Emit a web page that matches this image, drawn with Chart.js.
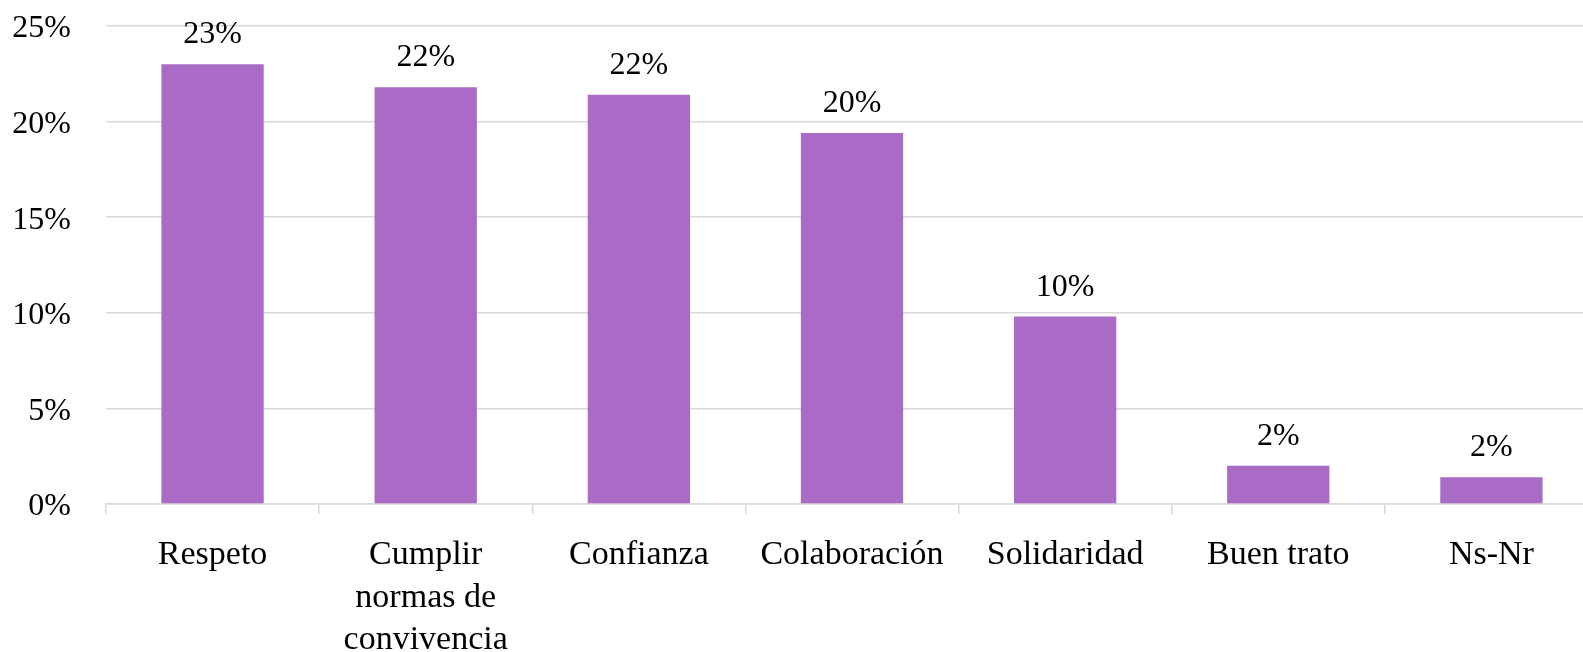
<!DOCTYPE html>
<html>
<head>
<meta charset="utf-8">
<script src="https://cdn.jsdelivr.net/npm/chart.js@4"></script>
<style>
  html, body { margin: 0; padding: 0; background: #fff; overflow: hidden; }
  #wrap { position: relative; width: 1598px; height: 652px; }
</style>
</head>
<body>
<div id="wrap"><canvas id="myChart"></canvas></div>
<script>
// chart data
const categories = ['Respeto', ['Cumplir', 'normas de', 'convivencia'], 'Confianza', 'Colaboración', 'Solidaridad', 'Buen trato', 'Ns-Nr'];
const values = [23.0, 21.8, 21.4, 19.4, 9.8, 2.0, 1.4];
const valueLabels = ['23%', '22%', '22%', '20%', '10%', '2%', '2%'];
const yTicks = [0, 5, 10, 15, 20, 25];

const FONT = "'Liberation Serif', 'Times New Roman', serif";
const GRID = '#d9d9d9';

// labels above the bars
const barLabels = {
  id: 'barLabels',
  afterDatasetsDraw(chart) {
    const ctx = chart.ctx;
    const meta = chart.getDatasetMeta(0);
    ctx.save();
    ctx.font = '32px ' + FONT;
    ctx.fillStyle = '#000';
    ctx.textAlign = 'center';
    ctx.textBaseline = 'alphabetic';
    meta.data.forEach((bar, i) => {
      ctx.fillText(valueLabels[i], bar.x, bar.y - 21);
    });
    ctx.restore();
  }
};

const chartCanvas = document.getElementById('myChart');

const config = {
  type: 'bar',
  data: {
    labels: categories,
    datasets: [
      {
        data: values,
        backgroundColor: '#a96bc6',
        borderWidth: 0,
        categoryPercentage: 1,
        barPercentage: 0.48
      }
    ]
  },
  options: {
    responsive: true,
    maintainAspectRatio: false,
    animation: false,
    layout: { padding: { top: 26, left: 0, right: 0, bottom: 0 } },
    plugins: {
      legend: { display: false },
      tooltip: { enabled: false }
    },
    scales: {
      y: {
        min: 0,
        max: 25,
        afterBuildTicks(scale) {
          scale.ticks = yTicks.map(v => ({ value: v }));
        },
        afterFit(scale) {
          scale.width = 106;
          scale.paddingTop = 0;
          scale.paddingBottom = 0;
        },
        border: { display: false },
        grid: { color: GRID, lineWidth: 1.5, drawTicks: false },
        ticks: {
          padding: 35,
          labelOffset: 3,
          color: '#000',
          font: { family: FONT, size: 32 },
          callback: v => v + '%'
        }
      },
      x: {
        afterFit(scale) { scale.height = 148; },
        border: { display: true, color: GRID, width: 1.5 },
        grid: { offset: true, drawOnChartArea: false, color: GRID, lineWidth: 1.5, tickLength: 10 },
        ticks: {
          padding: 20,
          color: '#000',
          maxRotation: 0,
          autoSkip: false,
          font: { family: FONT, size: 34, lineHeight: 1.25 }
        }
      }
    }
  },
  plugins: [barLabels]
};

const myChart = new Chart(chartCanvas, config);
</script>
</body>
</html>
